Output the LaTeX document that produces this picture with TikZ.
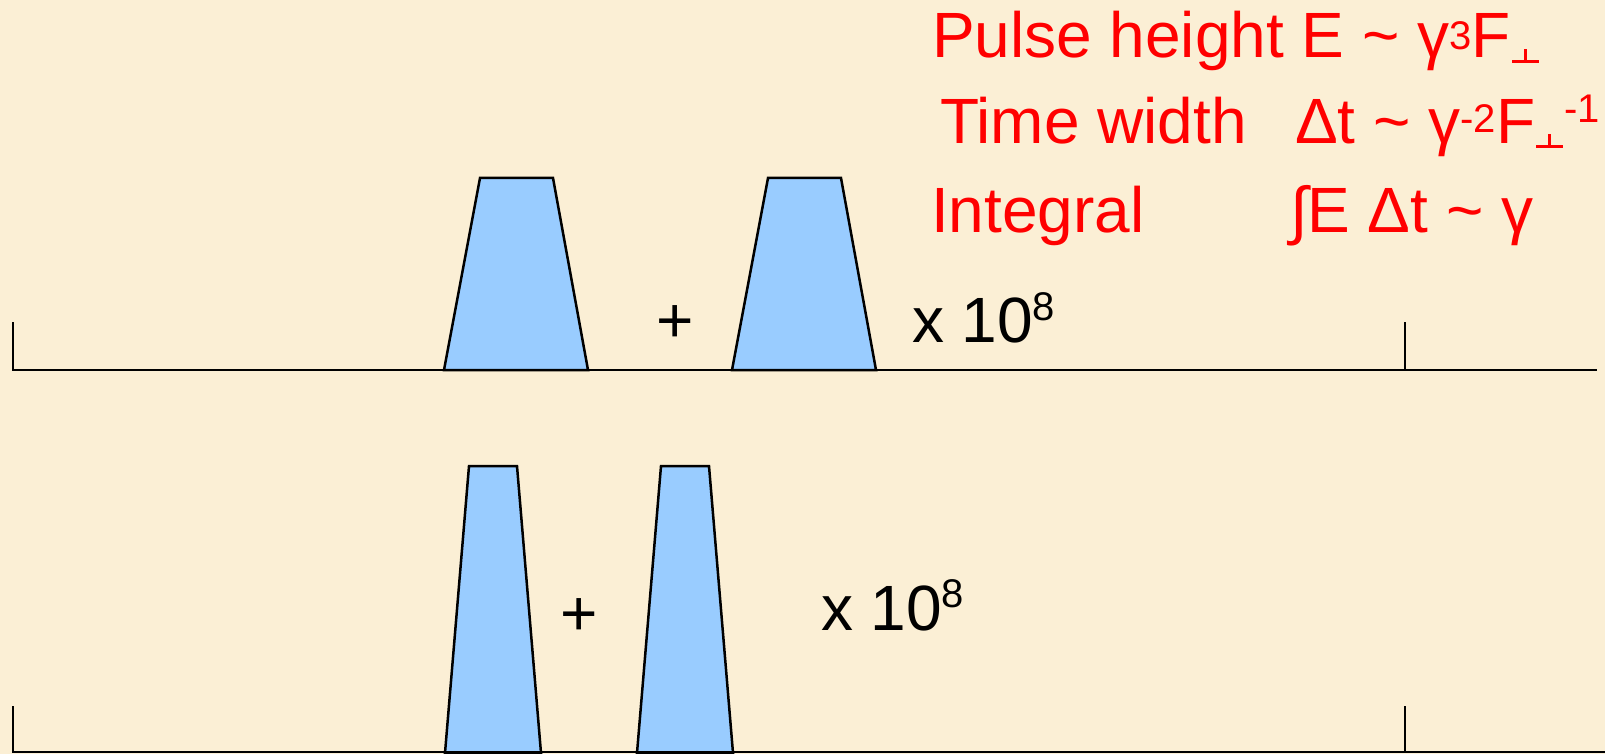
\documentclass[tikz,border=0pt]{standalone}
\usepackage{fontspec}
\setmainfont{Liberation Sans}
\definecolor{bg}{RGB}{251,239,213}
\definecolor{pulsefill}{RGB}{153,204,255}
\definecolor{txtred}{RGB}{255,0,0}
\newcommand\mysup[2]{\raisebox{#1}{\fontsize{40}{40}\selectfont #2}}
\newcommand\perpsub[1]{\raisebox{#1}{\hbox{\kern1pt\rlap{\rule{27pt}{2.8pt}}\kern12.1pt\rule{2.8pt}{14pt}\kern13.1pt}}}
\tikzset{
  bigtxt/.style={inner sep=0pt, outer sep=0pt, anchor=base west, font=\fontsize{64}{64}\selectfont},
  redtxt/.style={bigtxt, text=txtred},
  blacktxt/.style={bigtxt, text=black},
  pulse/.style={fill=pulsefill, draw=black, line width=2.5pt, line join=miter},
  axis/.style={draw=black, line width=2.7pt}
}
\begin{document}
\begin{tikzpicture}[x=1pt, y=-1pt]
\fill[bg] (0,0) rectangle (1605,754);
\useasboundingbox (0,0) rectangle (1605,754);

% top row
\path[axis] (13,322) -- (13,370) -- (1597,370);
\path[axis] (1405,322) -- (1405,370);
\path[pulse] (444,370) -- (480,178) -- (553,178) -- (588,370) -- cycle;
\path[pulse] (732,370) -- (768,178) -- (841,178) -- (876,370) -- cycle;
\node[blacktxt] (plus1) at (656,342) {+};
\node[blacktxt] (mult1) at (912,342) {x 10\mysup{22pt}{8}};

% bottom row
\path[pulse] (445,753) -- (469,466) -- (517,466) -- (541,753) -- cycle;
\path[pulse] (637,753) -- (661,466) -- (709,466) -- (733,753) -- cycle;
\path[axis] (13,706) -- (13,752) -- (1605,752);
\path[axis] (1405,706) -- (1405,752);
\node[blacktxt] (plus2) at (560,635) {+};
\node[blacktxt] (mult2) at (821,630) {x 10\mysup{23pt}{8}};

% red text
\node[redtxt] (l1) at (932,58) {Pulse height E \textasciitilde{} γ\mysup{8pt}{3}F\perpsub{-5pt}};
\node[redtxt] (l2a) at (940,144) {Time width};
\node[redtxt] (l2b) at (1295,144) {Δt \textasciitilde{} γ\mysup{11pt}{-2}F\perpsub{-4pt}\mysup{21pt}{-1}};
\node[redtxt] (l3a) at (931,232) {Integral};
\node[redtxt] (l3b) at (1290,232) {∫E Δt \textasciitilde{} γ};
\end{tikzpicture}
\end{document}
